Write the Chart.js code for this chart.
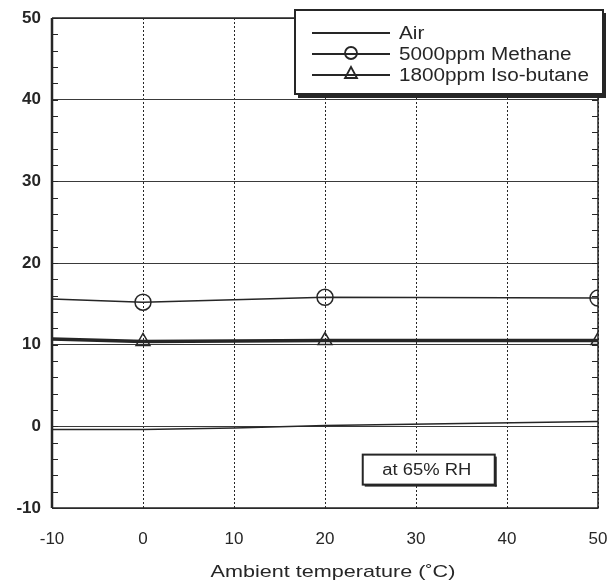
<!DOCTYPE html>
<html lang="en">
<head>
  <meta charset="UTF-8" />
  <title>Sensor output vs ambient temperature</title>
  <script src="https://cdn.jsdelivr.net/npm/chart.js"></script>
  <style>
    html, body {
      margin: 0;
      padding: 0;
      background: #fff;
    }
  </style>
</head>
<body>
  <canvas id="tempChart" width="608" height="581"></canvas>

  <script>
    // measured output against ambient temperature
    const temperatures = [-10, 0, 10, 20, 50];
    const airValues = [-0.4, -0.4, -0.2, 0.1, 0.6];
    const methaneValues = [15.6, 15.2, 15.5, 15.8, 15.7];
    const isobutaneValues = [10.7, 10.4, 10.45, 10.5, 10.5];
    const seriesNames = ['Air', '5000ppm Methane', '1800ppm Iso-butane'];
    const noteText = 'at 65% RH';
    const xTitle = 'Ambient temperature (\u02DAC)';

    const ink = '#262626';
    const font = "'Liberation Sans', Arial, sans-serif";

    function toPoints(values) {
      return temperatures.map((t, i) => ({ x: t, y: values[i] }));
    }
    // no marker at the extrapolated -10 and 10 points
    function markerRadius(ctx) {
      const x = ctx.raw ? ctx.raw.x : 0;
      return (x === -10 || x === 10) ? 0 : 8;
    }

    // text drawn a little wider than the font's natural width
    function wideText(c, text, x, y, sx, align) {
      c.save();
      c.translate(x, y);
      c.scale(sx, 1);
      c.textAlign = align;
      c.fillText(text, 0, 0);
      c.restore();
    }

    // minor ticks, frame, legend, note box and axis title
    const extras = {
      id: 'extras',
      afterDraw(chart) {
        const c = chart.ctx;
        const a = chart.chartArea;
        const ys = chart.scales.y;
        const xs = chart.scales.x;
        c.save();
        c.strokeStyle = ink;

        // minor ticks on both vertical sides
        c.lineWidth = 1.2;
        for (let v = -10; v <= 50; v += 2) {
          const py = Math.round(ys.getPixelForValue(v)) + 0.5;
          c.beginPath();
          c.moveTo(a.left, py); c.lineTo(a.left + 6, py);
          c.moveTo(a.right, py); c.lineTo(a.right - 6, py);
          c.stroke();
        }

        // frame
        c.lineWidth = 2.5;
        c.beginPath();
        c.moveTo(a.left, a.top); c.lineTo(a.left, a.bottom);
        c.stroke();
        c.lineWidth = 1.5;
        c.beginPath();
        c.moveTo(a.left, a.bottom); c.lineTo(a.right, a.bottom);
        c.lineTo(a.right, a.top); c.lineTo(a.left, a.top);
        c.stroke();

        // legend box with shadow
        const lx = 295, ly = 10, lw = 308, lh = 84;
        c.fillStyle = '#fff';
        c.fillRect(lx, ly, lw, lh);
        c.fillStyle = ink;
        c.fillRect(lx + 3, ly + lh, lw, 4);
        c.fillRect(lx + lw, ly + 3, 3, lh);
        c.lineWidth = 2;
        c.strokeRect(lx, ly, lw, lh);

        c.font = '18px ' + font;
        c.textBaseline = 'middle';
        chart.data.datasets.forEach((ds, i) => {
          const ry = ly + 23 + i * 21;
          c.strokeStyle = ink;
          c.lineWidth = 2;
          c.beginPath();
          c.moveTo(lx + 17, ry); c.lineTo(lx + 95, ry);
          c.stroke();
          if (ds.pointStyle === 'circle') {
            c.lineWidth = 1.8;
            c.beginPath();
            c.arc(lx + 56, ry - 1, 6, 0, Math.PI * 2);
            c.stroke();
          } else if (ds.pointStyle === 'triangle') {
            c.lineWidth = 1.8;
            c.beginPath();
            c.moveTo(lx + 56, ry - 8);
            c.lineTo(lx + 62, ry + 3);
            c.lineTo(lx + 50, ry + 3);
            c.closePath();
            c.stroke();
          }
          c.fillStyle = ink;
          wideText(c, ds.label, lx + 104, ry + 1, 1.15, 'left');
        });

        // note box
        const cx = xs.getPixelForValue(31.4);
        const cy = ys.getPixelForValue(-5.3);
        const bw = 132, bh = 30;
        c.fillStyle = '#fff';
        c.fillRect(cx - bw / 2, cy - bh / 2, bw, bh);
        c.fillStyle = ink;
        c.fillRect(cx - bw / 2 + 2, cy + bh / 2, bw, 2);
        c.fillRect(cx + bw / 2, cy - bh / 2 + 2, 2, bh);
        c.lineWidth = 2;
        c.strokeRect(cx - bw / 2, cy - bh / 2, bw, bh);
        c.font = '16px ' + font;
        wideText(c, noteText, cx - 2, cy + 1, 1.15, 'center');

        // x axis title
        c.font = '17px ' + font;
        wideText(c, xTitle, (a.left + a.right) / 2 + 8, 572, 1.27, 'center');

        c.restore();
      }
    };

    new Chart(document.getElementById('tempChart'), {
      type: 'line',
      data: {
        datasets: [
          {
            label: seriesNames[0],
            data: toPoints(airValues),
            borderColor: ink,
            borderWidth: 1.5,
            pointRadius: 0,
            pointStyle: false
          },
          {
            label: seriesNames[1],
            data: toPoints(methaneValues),
            borderColor: ink,
            borderWidth: 1.5,
            pointStyle: 'circle',
            pointRadius: markerRadius,
            pointBorderColor: ink,
            pointBackgroundColor: 'rgba(0,0,0,0)',
            pointBorderWidth: 1.5
          },
          {
            label: seriesNames[2],
            data: toPoints(isobutaneValues),
            borderColor: ink,
            borderWidth: 3.5,
            pointStyle: 'triangle',
            pointRadius: markerRadius,
            pointBorderColor: ink,
            pointBackgroundColor: 'rgba(0,0,0,0)',
            pointBorderWidth: 1.5
          }
        ]
      },
      options: {
        responsive: false,
        animation: false,
        layout: { padding: { top: 18, right: 10, left: 0, bottom: 0 } },
        plugins: {
          legend: { display: false },
          tooltip: { enabled: false }
        },
        scales: {
          x: {
            type: 'linear',
            min: -10,
            max: 50,
            ticks: {
              stepSize: 10,
              color: ink,
              padding: 21,
              font: { family: font, size: 17 }
            },
            grid: { color: ink, lineWidth: 1, drawTicks: false },
            border: { display: false, dash: [2, 2] },
            afterFit(scale) {
              scale.height = 73;
              scale.paddingLeft = 0;
              scale.paddingRight = 0;
            }
          },
          y: {
            min: -10,
            max: 50,
            ticks: {
              stepSize: 10,
              color: ink,
              padding: 11,
              font: { family: font, size: 17, weight: 'bold' }
            },
            grid: { color: '#3a3a3a', lineWidth: 1, drawTicks: false },
            border: { display: false },
            afterFit(scale) {
              scale.width = 52;
              scale.paddingTop = 0;
              scale.paddingBottom = 0;
            }
          }
        }
      },
      plugins: [extras]
    });
  </script>
</body>
</html>
